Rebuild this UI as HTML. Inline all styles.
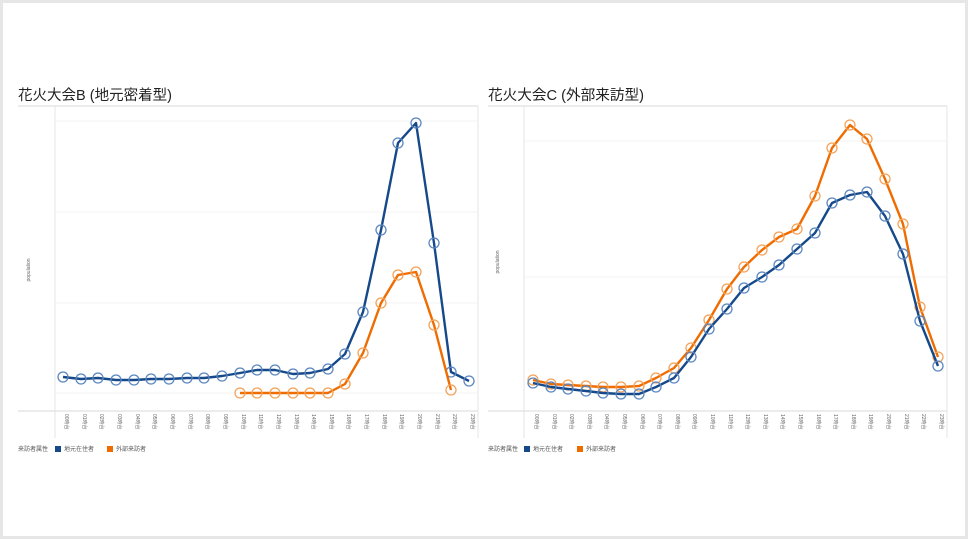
<!DOCTYPE html>
<html><head><meta charset="utf-8"><style>
body{margin:0;background:#fff}
svg{display:block}
text{font-family:"Liberation Sans","Noto Sans CJK JP",sans-serif}
</style></head><body>
<svg width="970" height="540" viewBox="0 0 970 540" xmlns="http://www.w3.org/2000/svg">
<defs>
<marker id="mb" markerWidth="14" markerHeight="14" refX="7" refY="7" markerUnits="userSpaceOnUse"><circle cx="7" cy="7" r="5" fill="none" stroke="#5b87c0" stroke-width="1.3"/></marker>
<marker id="mo" markerWidth="14" markerHeight="14" refX="7" refY="7" markerUnits="userSpaceOnUse"><circle cx="7" cy="7" r="5" fill="none" stroke="#f3a35a" stroke-width="1.3"/></marker>
</defs>
<rect x="0" y="0" width="970" height="540" fill="#fff"/>
<rect x="1.5" y="1.5" width="965" height="536" fill="none" stroke="#e6e6e6" stroke-width="3"/>

<!-- Left chart -->
<text x="18" y="100" font-size="14.5" fill="#222" textLength="154" lengthAdjust="spacingAndGlyphs">花火大会B (地元密着型)</text>
<line x1="18" y1="106" x2="478" y2="106" stroke="#e6e6e6" stroke-width="1.5"/>
<line x1="55" y1="106" x2="55" y2="438" stroke="#e6e6e6" stroke-width="1"/>
<line x1="478" y1="106" x2="478" y2="438" stroke="#e6e6e6" stroke-width="1"/>
<g stroke="#f3f3f3" stroke-width="1">
<line x1="56" y1="121" x2="477" y2="121"/><line x1="56" y1="212" x2="477" y2="212"/><line x1="56" y1="303" x2="477" y2="303"/><line x1="56" y1="393" x2="477" y2="393"/>
</g>
<line x1="18" y1="411" x2="478" y2="411" stroke="#e0e0e0" stroke-width="1.2"/>
<text transform="translate(30,270) rotate(-90)" font-size="5" fill="#666" text-anchor="middle">population</text>
<g font-size="5" fill="#666">
<text transform="translate(65,414) rotate(90)">00時台</text><text transform="translate(83,414) rotate(90)">01時台</text><text transform="translate(100,414) rotate(90)">02時台</text><text transform="translate(118,414) rotate(90)">03時台</text><text transform="translate(136,414) rotate(90)">04時台</text><text transform="translate(153,414) rotate(90)">05時台</text><text transform="translate(171,414) rotate(90)">06時台</text><text transform="translate(189,414) rotate(90)">07時台</text><text transform="translate(206,414) rotate(90)">08時台</text><text transform="translate(224,414) rotate(90)">09時台</text><text transform="translate(242,414) rotate(90)">10時台</text><text transform="translate(259,414) rotate(90)">11時台</text><text transform="translate(277,414) rotate(90)">12時台</text><text transform="translate(295,414) rotate(90)">13時台</text><text transform="translate(312,414) rotate(90)">14時台</text><text transform="translate(330,414) rotate(90)">15時台</text><text transform="translate(347,414) rotate(90)">16時台</text><text transform="translate(365,414) rotate(90)">17時台</text><text transform="translate(383,414) rotate(90)">18時台</text><text transform="translate(400,414) rotate(90)">19時台</text><text transform="translate(418,414) rotate(90)">20時台</text><text transform="translate(436,414) rotate(90)">21時台</text><text transform="translate(453,414) rotate(90)">22時台</text><text transform="translate(471,414) rotate(90)">23時台</text>
</g>
<polyline fill="none" stroke="#16498a" stroke-width="2.4" stroke-linejoin="round" marker-start="url(#mb)" marker-mid="url(#mb)" marker-end="url(#mb)"
points="63,377 81,379 98,378 116,380 134,380 151,379 169,379 187,378 204,378 222,376 240,373 257,370 275,370 293,374 310,373 328,369 345,354 363,312 381,230 398,143 416,123 434,243 451,372 469,381"/>
<polyline fill="none" stroke="#ef6c00" stroke-width="2.4" stroke-linejoin="round" marker-start="url(#mo)" marker-mid="url(#mo)" marker-end="url(#mo)"
points="240,393 257,393 275,393 293,393 310,393 328,393 345,384 363,353 381,303 398,275 416,272 434,325 451,390"/>
<g font-size="6" fill="#555">
<text x="18" y="451">来訪者属性</text>
<rect x="55" y="446" width="6" height="6" fill="#16498a"/><text x="64" y="451">地元在住者</text>
<rect x="107" y="446" width="6" height="6" fill="#ef6c00"/><text x="116" y="451">外部来訪者</text>
</g>

<!-- Right chart -->
<text x="488" y="100" font-size="14.5" fill="#222" textLength="156" lengthAdjust="spacingAndGlyphs">花火大会C (外部来訪型)</text>
<line x1="488" y1="106" x2="947" y2="106" stroke="#e6e6e6" stroke-width="1.5"/>
<line x1="524" y1="106" x2="524" y2="438" stroke="#e6e6e6" stroke-width="1"/>
<line x1="947" y1="106" x2="947" y2="438" stroke="#e6e6e6" stroke-width="1"/>
<g stroke="#f3f3f3" stroke-width="1">
<line x1="525" y1="141" x2="946" y2="141"/><line x1="525" y1="277" x2="946" y2="277"/>
</g>
<line x1="488" y1="411" x2="947" y2="411" stroke="#e0e0e0" stroke-width="1.2"/>
<text transform="translate(499,262) rotate(-90)" font-size="5" fill="#666" text-anchor="middle">population</text>
<g font-size="5" fill="#666">
<text transform="translate(535,414) rotate(90)">00時台</text><text transform="translate(553,414) rotate(90)">01時台</text><text transform="translate(570,414) rotate(90)">02時台</text><text transform="translate(588,414) rotate(90)">03時台</text><text transform="translate(605,414) rotate(90)">04時台</text><text transform="translate(623,414) rotate(90)">05時台</text><text transform="translate(641,414) rotate(90)">06時台</text><text transform="translate(658,414) rotate(90)">07時台</text><text transform="translate(676,414) rotate(90)">08時台</text><text transform="translate(693,414) rotate(90)">09時台</text><text transform="translate(711,414) rotate(90)">10時台</text><text transform="translate(729,414) rotate(90)">11時台</text><text transform="translate(746,414) rotate(90)">12時台</text><text transform="translate(764,414) rotate(90)">13時台</text><text transform="translate(781,414) rotate(90)">14時台</text><text transform="translate(799,414) rotate(90)">15時台</text><text transform="translate(817,414) rotate(90)">16時台</text><text transform="translate(834,414) rotate(90)">17時台</text><text transform="translate(852,414) rotate(90)">18時台</text><text transform="translate(869,414) rotate(90)">19時台</text><text transform="translate(887,414) rotate(90)">20時台</text><text transform="translate(905,414) rotate(90)">21時台</text><text transform="translate(922,414) rotate(90)">22時台</text><text transform="translate(940,414) rotate(90)">23時台</text>
</g>
<polyline fill="none" stroke="#ef6c00" stroke-width="2.4" stroke-linejoin="round" marker-start="url(#mo)" marker-mid="url(#mo)" marker-end="url(#mo)"
points="533,380 551,384 568,385 586,386 603,387 621,387 639,386 656,378 674,368 691,348 709,320 727,289 744,267 762,250 779,237 797,229 815,196 832,148 850,125 867,139 885,179 903,224 920,307 938,357"/>
<polyline fill="none" stroke="#16498a" stroke-width="2.4" stroke-linejoin="round" marker-start="url(#mb)" marker-mid="url(#mb)" marker-end="url(#mb)"
points="533,383 551,387 568,389 586,391 603,393 621,394 639,394 656,387 674,378 691,357 709,329 727,309 744,288 762,277 779,265 797,249 815,233 832,203 850,195 867,192 885,216 903,254 920,321 938,366"/>
<g font-size="6" fill="#555">
<text x="488" y="451">来訪者属性</text>
<rect x="524" y="446" width="6" height="6" fill="#16498a"/><text x="533" y="451">地元在住者</text>
<rect x="577" y="446" width="6" height="6" fill="#ef6c00"/><text x="586" y="451">外部来訪者</text>
</g>
</svg>
</body></html>
